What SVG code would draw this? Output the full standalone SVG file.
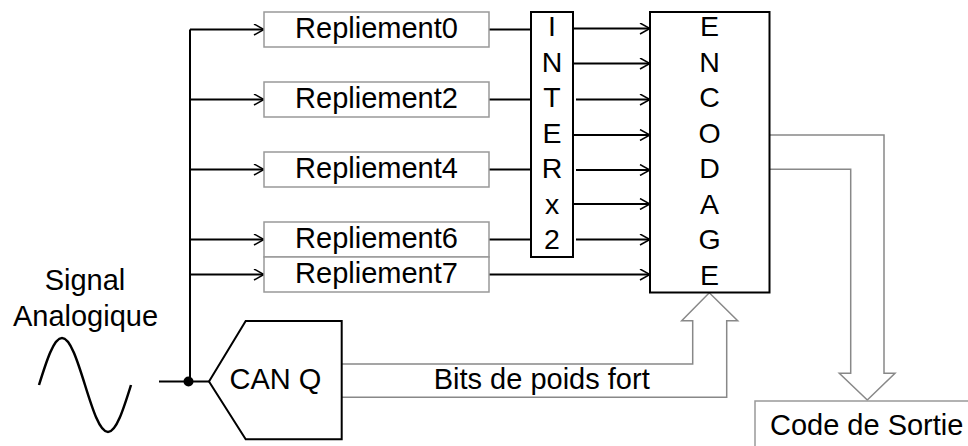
<svg xmlns="http://www.w3.org/2000/svg" width="968" height="446" viewBox="0 0 968 446">
<defs>
<style>
text{font-family:"Liberation Sans",Arial,sans-serif;font-size:29px;fill:#000;text-anchor:middle}
.v{font-size:28.5px}
.gbox{fill:#fff;stroke:#999;stroke-width:1.5}
.bbox{fill:#fff;stroke:#000;stroke-width:2}
.w{fill:none;stroke:#000;stroke-width:2}
.big{fill:none;stroke:#888;stroke-width:1.5}
</style>
<marker id="ah" viewBox="0 0 12 12" refX="11" refY="6" markerWidth="12" markerHeight="12" markerUnits="userSpaceOnUse" orient="auto">
<path d="M1,0.5 L11,6 L1,11.5" fill="none" stroke="#000" stroke-width="1.5"/>
</marker>
</defs>
<rect width="968" height="446" fill="#fff"/>

<g id="connectors">
<path class="w" d="M190,29.5 V381.5"/>
<path class="w" d="M159,381.5 H209"/>
<circle cx="188.5" cy="381.5" r="5" fill="#000"/>
<path class="w" d="M190,29.5 H264" marker-end="url(#ah)"/>
<path class="w" d="M190,99.5 H264" marker-end="url(#ah)"/>
<path class="w" d="M190,169.5 H264" marker-end="url(#ah)"/>
<path class="w" d="M190,239.5 H264" marker-end="url(#ah)"/>
<path class="w" d="M190,274.5 H264" marker-end="url(#ah)"/>
<path class="w" d="M489,29.5 H531"/>
<path class="w" d="M489,99.5 H531"/>
<path class="w" d="M489,169.5 H531"/>
<path class="w" d="M489,239.5 H531"/>
<path class="w" d="M489,274.5 H650" marker-end="url(#ah)"/>
<path class="w" d="M573,28.5 H650" marker-end="url(#ah)"/>
<path class="w" d="M573,63.5 H650" marker-end="url(#ah)"/>
<path class="w" d="M576,99.5 H650" marker-end="url(#ah)"/>
<path class="w" d="M573,135 H650" marker-end="url(#ah)"/>
<path class="w" d="M576,170 H650" marker-end="url(#ah)"/>
<path class="w" d="M573,204 H650" marker-end="url(#ah)"/>
<path class="w" d="M576,239.5 H650" marker-end="url(#ah)"/>
<path class="big" d="M342,364 H692.7 V320.7 H681.7 L709.3,292.7 L737.7,320.7 H726.7 V397.3 H342"/>
<path class="big" d="M770,135 H884 V373.3 H895 L867.3,400 L839.3,373.3 H850.7 V169.3 H770"/>
<text x="541.7" y="389">Bits de poids fort</text>
</g>

<g id="signal">
<text x="85" y="290">Signal</text>
<text x="85.5" y="326">Analogique</text>
<path d="M39,385 C46.5,360.9 53.7,338 62,338 C70.3,338 77.5,360.9 85,385 C92.5,409.1 99.7,432 108,432 C116.3,432 123.5,409.1 131,385" fill="none" stroke="#000" stroke-width="2.5"/>
</g>

<g id="repliement0"><rect class="gbox" x="264" y="12" width="225" height="35"/><text x="376.5" y="38">Repliement0</text></g>
<g id="repliement2"><rect class="gbox" x="264" y="82" width="225" height="35"/><text x="376.5" y="108">Repliement2</text></g>
<g id="repliement4"><rect class="gbox" x="264" y="152" width="225" height="35"/><text x="376.5" y="178">Repliement4</text></g>
<g id="repliement6"><rect class="gbox" x="264" y="222" width="225" height="35"/><text x="376.5" y="248">Repliement6</text></g>
<g id="repliement7"><rect class="gbox" x="264" y="257" width="225" height="35"/><text x="376.5" y="283">Repliement7</text></g>

<g id="inter">
<rect class="bbox" x="531" y="12" width="42" height="245"/>
<text class="v" x="552" y="36">I</text>
<text class="v" x="552" y="71.5">N</text>
<text class="v" x="552" y="107">T</text>
<text class="v" x="552" y="142.5">E</text>
<text class="v" x="552" y="178">R</text>
<text class="v" x="552" y="213.5">x</text>
<text class="v" x="552" y="249">2</text>
</g>

<g id="encodage">
<rect class="bbox" x="650" y="12" width="119.5" height="280.5"/>
<text class="v" x="709.5" y="36">E</text>
<text class="v" x="709.5" y="71.5">N</text>
<text class="v" x="709.5" y="107">C</text>
<text class="v" x="709.5" y="142.5">O</text>
<text class="v" x="709.5" y="178">D</text>
<text class="v" x="709.5" y="213.5">A</text>
<text class="v" x="709.5" y="249">G</text>
<text class="v" x="709.5" y="284.5">E</text>
</g>

<g id="canq">
<path class="bbox" d="M209,381.5 L245.7,321 H341.7 V439.3 H245.7 Z"/>
<text x="275.5" y="389">CAN Q</text>
</g>

<g id="sortie">
<rect class="gbox" x="755" y="401" width="230" height="60"/>
<text x="866.7" y="435">Code de Sortie</text>
</g>
</svg>
